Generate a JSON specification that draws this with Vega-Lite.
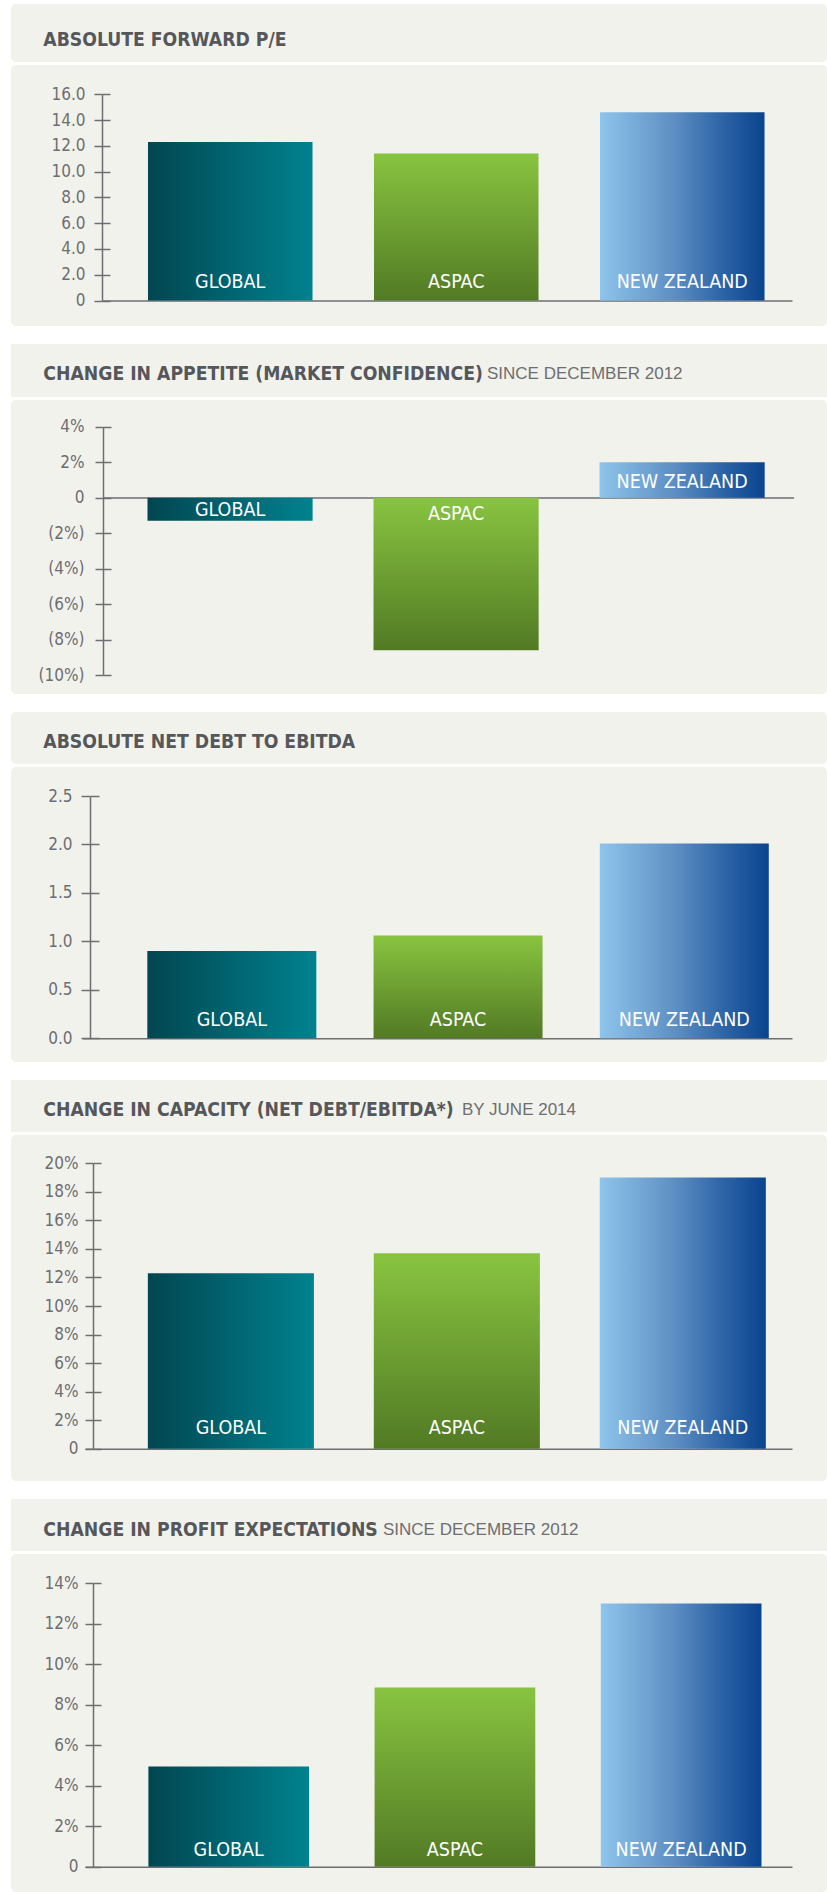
{
  "$schema": "https://vega.github.io/schema/vega-lite/v6.json",
  "background": "white",
  "padding": {"left": 11, "top": 4, "right": 0, "bottom": 0},
  "spacing": 18,
  "config": {
    "view": {"fill": "#f2f2ed", "stroke": null},
    "axis": {"domainColor": "#6d6e71", "domainWidth": 1.5, "tickColor": "#6d6e71", "tickWidth": 1.5, "labelColor": "#6d6e71", "labelFont": "DejaVu Sans Condensed", "labelFontSize": 17, "grid": false},
    "title": {"anchor": "start", "frame": "group", "orient": "top", "baseline": "alphabetic", "font": "DejaVu Sans Condensed", "fontSize": 19.2, "fontWeight": "bold", "color": "#55575b"},
    "text": {"font": "DejaVu Sans Condensed", "fontSize": 19.5, "color": "white", "align": "center", "baseline": "alphabetic"},
    "rect": {"color": "#f2f2ed"}
  },
  "datasets": {
    "header": [{"card": "header"}],
    "pe": [{"region": "GLOBAL", "value": 12.3}, {"region": "ASPAC", "value": 11.4}, {"region": "NEW ZEALAND", "value": 14.6}],
    "appetite": [{"region": "GLOBAL", "value": -1.3}, {"region": "ASPAC", "value": -8.6}, {"region": "NEW ZEALAND", "value": 2.0}],
    "debt": [{"region": "GLOBAL", "value": 0.9}, {"region": "ASPAC", "value": 1.06}, {"region": "NEW ZEALAND", "value": 2.01}],
    "capacity": [{"region": "GLOBAL", "value": 12.3}, {"region": "ASPAC", "value": 13.7}, {"region": "NEW ZEALAND", "value": 19.0}],
    "profit": [{"region": "GLOBAL", "value": 4.95}, {"region": "ASPAC", "value": 8.85}, {"region": "NEW ZEALAND", "value": 13.0}]
  },
  "vconcat": [
    {
      "spacing": 3,
      "vconcat": [
        {"width": 816, "height": 58, "data": {"name": "header"}, "mark": {"type": "rect", "cornerRadius": 5}, "title": {"text": "ABSOLUTE FORWARD P/E", "dx": 32.3, "offset": -45.8}},
        {
          "width": 816, "height": 261, "view": {"cornerRadius": 5},
          "data": {"name": "pe"},
          "encoding": {"x": {"field": "region", "type": "nominal", "sort": ["GLOBAL", "ASPAC", "NEW ZEALAND"], "scale": {"range": [91, 781], "paddingInner": 0.272, "paddingOuter": 0.1625, "align": 0.626}, "axis": {"orient": "bottom", "offset": -25.5, "labels": false, "ticks": false, "title": null}}},
          "layer": [
            {"transform": [{"filter": "datum.region === 'GLOBAL'"}], "mark": {"type": "bar", "color": {"gradient": "linear", "x1": 0, "y1": 0, "x2": 1, "y2": 0, "stops": [{"offset": 0, "color": "#014650"}, {"offset": 1, "color": "#00828f"}]}},
             "encoding": {"y": {"field": "value", "type": "quantitative", "scale": {"domain": [0, 16], "range": [235.5, 29.3], "nice": false}, "axis": {"orient": "left", "offset": -91, "values": [0, 2, 4, 6, 8, 10, 12, 14, 16], "labelExpr": "datum.value === 0 ? '0' : format(datum.value, '.1f')", "tickSize": 8, "labelPadding": 9, "title": null}}}},
            {"transform": [{"filter": "datum.region === 'ASPAC'"}], "mark": {"type": "bar", "color": {"gradient": "linear", "x1": 0, "y1": 0, "x2": 0, "y2": 1, "stops": [{"offset": 0, "color": "#88c440"}, {"offset": 1, "color": "#527a24"}]}},
             "encoding": {"y": {"field": "value", "type": "quantitative", "axis": {"orient": "right", "offset": -725, "values": [0, 2, 4, 6, 8, 10, 12, 14, 16], "tickSize": 8, "labels": false, "domain": false, "title": null}}}},
            {"transform": [{"filter": "datum.region === 'NEW ZEALAND'"}], "mark": {"type": "bar", "color": {"gradient": "linear", "x1": 0, "y1": 0, "x2": 1, "y2": 0, "stops": [{"offset": 0, "color": "#8ec5eb"}, {"offset": 0.45, "color": "#5e8ec3"}, {"offset": 0.75, "color": "#2b63a6"}, {"offset": 1, "color": "#0a448e"}]}},
             "encoding": {"y": {"field": "value", "type": "quantitative", "axis": null}}},
            {"mark": {"type": "text", "dy": -12.5}, "encoding": {"y": {"datum": 0, "type": "quantitative", "axis": null}, "text": {"field": "region"}}}
          ],
          "resolve": {"axis": {"y": "independent"}}
        }
      ]
    },
    {
      "spacing": 3,
      "vconcat": [
        {"spacing": 0, "hconcat": [
          {"width": 476, "height": 53, "data": {"name": "header"}, "mark": "rect", "title": {"text": "CHANGE IN APPETITE (MARKET CONFIDENCE)", "dx": 32.3, "offset": -40.1}},
          {"width": 340, "height": 53, "data": {"name": "header"}, "mark": "rect", "title": {"text": "SINCE DECEMBER 2012", "font": "Liberation Sans", "fontSize": 17, "fontWeight": "normal", "color": "#6d6e71", "offset": -38.8}}
        ]},
        {
          "width": 816, "height": 294, "view": {"cornerRadius": 5},
          "data": {"name": "appetite"},
          "encoding": {"x": {"field": "region", "type": "nominal", "sort": ["GLOBAL", "ASPAC", "NEW ZEALAND"], "scale": {"range": [92, 782.6], "paddingInner": 0.2694, "paddingOuter": 0.1624, "align": 0.606}, "axis": {"orient": "bottom", "offset": -196.4, "labels": false, "ticks": false, "title": null}}},
          "layer": [
            {"transform": [{"filter": "datum.region === 'GLOBAL'"}], "mark": {"type": "bar", "color": {"gradient": "linear", "x1": 0, "y1": 0, "x2": 1, "y2": 0, "stops": [{"offset": 0, "color": "#014650"}, {"offset": 1, "color": "#00828f"}]}},
             "encoding": {"y": {"field": "value", "type": "quantitative", "scale": {"domain": [-10, 4], "range": [275, 26.7], "nice": false}, "axis": {"orient": "left", "offset": -92, "values": [-10, -8, -6, -4, -2, 0, 2, 4], "labelExpr": "datum.value === 0 ? '0' : datum.value > 0 ? datum.value + '%' : '(' + abs(datum.value) + '%)'", "tickSize": 8, "labelPadding": 11, "title": null}}}},
            {"transform": [{"filter": "datum.region === 'ASPAC'"}], "mark": {"type": "bar", "color": {"gradient": "linear", "x1": 0, "y1": 0, "x2": 0, "y2": 1, "stops": [{"offset": 0, "color": "#88c440"}, {"offset": 1, "color": "#527a24"}]}},
             "encoding": {"y": {"field": "value", "type": "quantitative", "axis": {"orient": "right", "offset": -724, "values": [-10, -8, -6, -4, -2, 0, 2, 4], "tickSize": 8, "labels": false, "domain": false, "title": null}}}},
            {"transform": [{"filter": "datum.region === 'NEW ZEALAND'"}], "mark": {"type": "bar", "color": {"gradient": "linear", "x1": 0, "y1": 0, "x2": 1, "y2": 0, "stops": [{"offset": 0, "color": "#8ec5eb"}, {"offset": 0.45, "color": "#5e8ec3"}, {"offset": 0.75, "color": "#2b63a6"}, {"offset": 1, "color": "#0a448e"}]}},
             "encoding": {"y": {"field": "value", "type": "quantitative", "axis": null}}},
            {"transform": [{"filter": "datum.region === 'GLOBAL'"}], "mark": {"type": "text", "dy": 18.6}, "encoding": {"y": {"datum": 0, "type": "quantitative", "axis": null}, "text": {"field": "region"}}},
            {"transform": [{"filter": "datum.region === 'ASPAC'"}], "mark": {"type": "text", "dy": 21.9}, "encoding": {"y": {"datum": 0, "type": "quantitative", "axis": null}, "text": {"field": "region"}}},
            {"transform": [{"filter": "datum.region === 'NEW ZEALAND'"}], "mark": {"type": "text", "dy": -9.3}, "encoding": {"y": {"datum": 0, "type": "quantitative", "axis": null}, "text": {"field": "region"}}}
          ],
          "resolve": {"axis": {"y": "independent"}}
        }
      ]
    },
    {
      "spacing": 3,
      "vconcat": [
        {"width": 816, "height": 52, "data": {"name": "header"}, "mark": {"type": "rect", "cornerRadius": 5}, "title": {"text": "ABSOLUTE NET DEBT TO EBITDA", "dx": 32.3, "offset": -40.1}},
        {
          "width": 816, "height": 295, "view": {"cornerRadius": 5},
          "data": {"name": "debt"},
          "encoding": {"x": {"field": "region", "type": "nominal", "sort": ["GLOBAL", "ASPAC", "NEW ZEALAND"], "scale": {"range": [71.3, 781], "paddingInner": 0.253, "paddingOuter": 0.195, "align": 0.737}, "axis": {"orient": "bottom", "offset": -23.7, "labels": false, "ticks": false, "title": null}}},
          "layer": [
            {"transform": [{"filter": "datum.region === 'GLOBAL'"}], "mark": {"type": "bar", "color": {"gradient": "linear", "x1": 0, "y1": 0, "x2": 1, "y2": 0, "stops": [{"offset": 0, "color": "#014650"}, {"offset": 1, "color": "#00828f"}]}},
             "encoding": {"y": {"field": "value", "type": "quantitative", "scale": {"domain": [0, 2.5], "range": [271.3, 29], "nice": false}, "axis": {"orient": "left", "offset": -79, "values": [0, 0.5, 1, 1.5, 2, 2.5], "labelExpr": "format(datum.value, '.1f')", "tickSize": 9, "labelPadding": 9, "title": null}}}},
            {"transform": [{"filter": "datum.region === 'ASPAC'"}], "mark": {"type": "bar", "color": {"gradient": "linear", "x1": 0, "y1": 0, "x2": 0, "y2": 1, "stops": [{"offset": 0, "color": "#88c440"}, {"offset": 1, "color": "#527a24"}]}},
             "encoding": {"y": {"field": "value", "type": "quantitative", "axis": {"orient": "right", "offset": -737, "values": [0, 0.5, 1, 1.5, 2, 2.5], "tickSize": 9, "labels": false, "domain": false, "title": null}}}},
            {"transform": [{"filter": "datum.region === 'NEW ZEALAND'"}], "mark": {"type": "bar", "color": {"gradient": "linear", "x1": 0, "y1": 0, "x2": 1, "y2": 0, "stops": [{"offset": 0, "color": "#8ec5eb"}, {"offset": 0.45, "color": "#5e8ec3"}, {"offset": 0.75, "color": "#2b63a6"}, {"offset": 1, "color": "#0a448e"}]}},
             "encoding": {"y": {"field": "value", "type": "quantitative", "axis": null}}},
            {"mark": {"type": "text", "dy": -12.3}, "encoding": {"y": {"datum": 0, "type": "quantitative", "axis": null}, "text": {"field": "region"}}}
          ],
          "resolve": {"axis": {"y": "independent"}}
        }
      ]
    },
    {
      "spacing": 3,
      "vconcat": [
        {"spacing": 0, "hconcat": [
          {"width": 451, "height": 52, "data": {"name": "header"}, "mark": "rect", "title": {"text": "CHANGE IN CAPACITY (NET DEBT/EBITDA*)", "dx": 32.3, "offset": -40.1}},
          {"width": 365, "height": 52, "data": {"name": "header"}, "mark": "rect", "title": {"text": "BY JUNE 2014", "font": "Liberation Sans", "fontSize": 17, "fontWeight": "normal", "color": "#6d6e71", "offset": -38.8}}
        ]},
        {
          "width": 816, "height": 346, "view": {"cornerRadius": 5},
          "data": {"name": "capacity"},
          "encoding": {"x": {"field": "region", "type": "nominal", "sort": ["GLOBAL", "ASPAC", "NEW ZEALAND"], "scale": {"range": [74, 781], "paddingInner": 0.265, "paddingOuter": 0.197, "align": 0.706}, "axis": {"orient": "bottom", "offset": -32.3, "labels": false, "ticks": false, "title": null}}},
          "layer": [
            {"transform": [{"filter": "datum.region === 'GLOBAL'"}], "mark": {"type": "bar", "color": {"gradient": "linear", "x1": 0, "y1": 0, "x2": 1, "y2": 0, "stops": [{"offset": 0, "color": "#014650"}, {"offset": 1, "color": "#00828f"}]}},
             "encoding": {"y": {"field": "value", "type": "quantitative", "scale": {"domain": [0, 20], "range": [313.7, 28.3], "nice": false}, "axis": {"orient": "left", "offset": -82, "values": [0, 2, 4, 6, 8, 10, 12, 14, 16, 18, 20], "labelExpr": "datum.value === 0 ? '0' : datum.value + '%'", "tickSize": 8, "labelPadding": 7, "title": null}}}},
            {"transform": [{"filter": "datum.region === 'ASPAC'"}], "mark": {"type": "bar", "color": {"gradient": "linear", "x1": 0, "y1": 0, "x2": 0, "y2": 1, "stops": [{"offset": 0, "color": "#88c440"}, {"offset": 1, "color": "#527a24"}]}},
             "encoding": {"y": {"field": "value", "type": "quantitative", "axis": {"orient": "right", "offset": -734, "values": [0, 2, 4, 6, 8, 10, 12, 14, 16, 18, 20], "tickSize": 8, "labels": false, "domain": false, "title": null}}}},
            {"transform": [{"filter": "datum.region === 'NEW ZEALAND'"}], "mark": {"type": "bar", "color": {"gradient": "linear", "x1": 0, "y1": 0, "x2": 1, "y2": 0, "stops": [{"offset": 0, "color": "#8ec5eb"}, {"offset": 0.45, "color": "#5e8ec3"}, {"offset": 0.75, "color": "#2b63a6"}, {"offset": 1, "color": "#0a448e"}]}},
             "encoding": {"y": {"field": "value", "type": "quantitative", "axis": null}}},
            {"mark": {"type": "text", "dy": -14.5}, "encoding": {"y": {"datum": 0, "type": "quantitative", "axis": null}, "text": {"field": "region"}}}
          ],
          "resolve": {"axis": {"y": "independent"}}
        }
      ]
    },
    {
      "spacing": 3,
      "vconcat": [
        {"spacing": 0, "hconcat": [
          {"width": 372, "height": 52, "data": {"name": "header"}, "mark": "rect", "title": {"text": "CHANGE IN PROFIT EXPECTATIONS", "dx": 32.3, "offset": -41.1}},
          {"width": 444, "height": 52, "data": {"name": "header"}, "mark": "rect", "title": {"text": "SINCE DECEMBER 2012", "font": "Liberation Sans", "fontSize": 17, "fontWeight": "normal", "color": "#6d6e71", "offset": -39.8}}
        ]},
        {
          "width": 816, "height": 338, "view": {"cornerRadius": 5},
          "data": {"name": "profit"},
          "encoding": {"x": {"field": "region", "type": "nominal", "sort": ["GLOBAL", "ASPAC", "NEW ZEALAND"], "scale": {"range": [74, 781], "paddingInner": 0.2896, "paddingOuter": 0.2076, "align": 0.675}, "axis": {"orient": "bottom", "offset": -25.3, "labels": false, "ticks": false, "title": null}}},
          "layer": [
            {"transform": [{"filter": "datum.region === 'GLOBAL'"}], "mark": {"type": "bar", "color": {"gradient": "linear", "x1": 0, "y1": 0, "x2": 1, "y2": 0, "stops": [{"offset": 0, "color": "#014650"}, {"offset": 1, "color": "#00828f"}]}},
             "encoding": {"y": {"field": "value", "type": "quantitative", "scale": {"domain": [0, 14], "range": [312.7, 29.3], "nice": false}, "axis": {"orient": "left", "offset": -82, "values": [0, 2, 4, 6, 8, 10, 12, 14], "labelExpr": "datum.value === 0 ? '0' : datum.value + '%'", "tickSize": 8, "labelPadding": 7, "title": null}}}},
            {"transform": [{"filter": "datum.region === 'ASPAC'"}], "mark": {"type": "bar", "color": {"gradient": "linear", "x1": 0, "y1": 0, "x2": 0, "y2": 1, "stops": [{"offset": 0, "color": "#88c440"}, {"offset": 1, "color": "#527a24"}]}},
             "encoding": {"y": {"field": "value", "type": "quantitative", "axis": {"orient": "right", "offset": -734, "values": [0, 2, 4, 6, 8, 10, 12, 14], "tickSize": 8, "labels": false, "domain": false, "title": null}}}},
            {"transform": [{"filter": "datum.region === 'NEW ZEALAND'"}], "mark": {"type": "bar", "color": {"gradient": "linear", "x1": 0, "y1": 0, "x2": 1, "y2": 0, "stops": [{"offset": 0, "color": "#8ec5eb"}, {"offset": 0.45, "color": "#5e8ec3"}, {"offset": 0.75, "color": "#2b63a6"}, {"offset": 1, "color": "#0a448e"}]}},
             "encoding": {"y": {"field": "value", "type": "quantitative", "axis": null}}},
            {"mark": {"type": "text", "dy": -10.7}, "encoding": {"y": {"datum": 0, "type": "quantitative", "axis": null}, "text": {"field": "region"}}}
          ],
          "resolve": {"axis": {"y": "independent"}}
        }
      ]
    }
  ]
}
